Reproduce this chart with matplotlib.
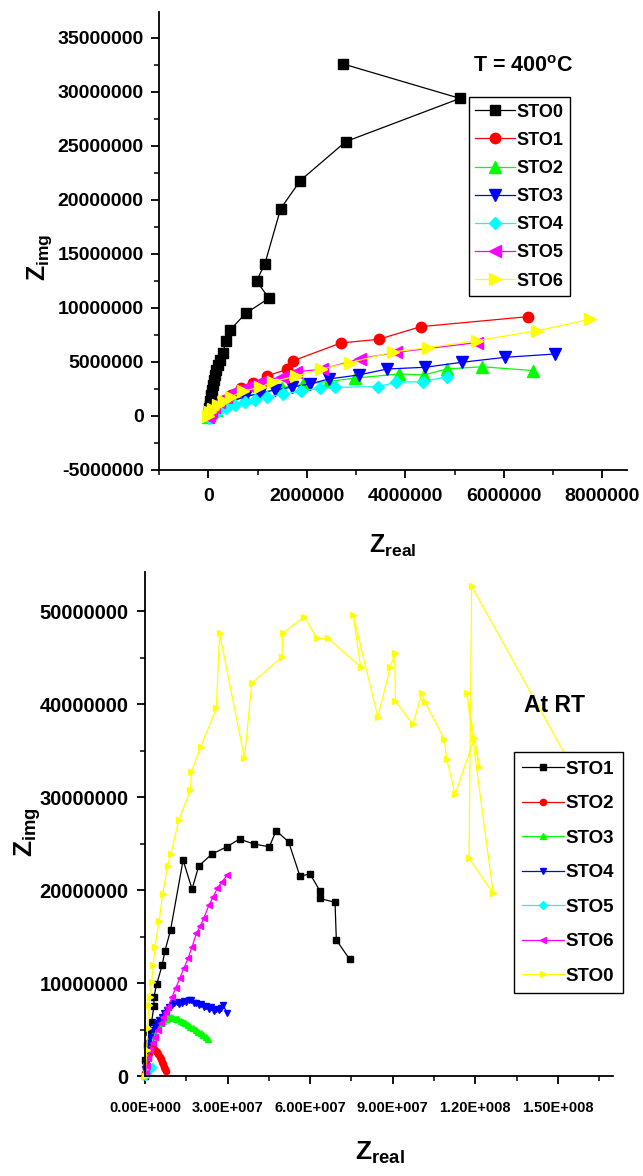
import numpy as np
import matplotlib
matplotlib.use('Agg')
import matplotlib.pyplot as plt
from matplotlib.ticker import MultipleLocator, FuncFormatter

plt.rcParams['font.family'] = ['Liberation Sans', 'DejaVu Sans']
plt.rcParams['font.weight'] = 'bold'
plt.rcParams['axes.unicode_minus'] = False
plt.rcParams['mathtext.fontset'] = 'custom'
plt.rcParams['mathtext.bf'] = 'Liberation Sans:bold'
plt.rcParams['mathtext.rm'] = 'Liberation Sans:bold'
plt.rcParams['mathtext.default'] = 'bf'

# --- T = 400 C impedance data (values in units of 1e6 ohm) ---
sto0_x = [0.00, 0.01, 0.02, 0.03, 0.04, 0.05, 0.07, 0.09, 0.11, 0.13, 0.16, 0.20, 0.23, 0.30, 0.355,
          0.45, 0.76, 1.23, 0.98, 1.15, 1.47, 1.87, 2.79, 5.11, 2.73]
sto0_y = [0.0, 0.4, 0.7, 1.0, 1.4, 1.9, 2.4, 2.9, 3.3, 3.8, 4.3, 4.7, 5.2, 5.86, 6.9,
          8.0, 9.5, 10.9, 12.5, 14.1, 19.2, 21.8, 25.4, 29.4, 32.6]
sto1_x = [0.0, 0.01, 0.05, 0.11, 0.21, 0.33, 0.47, 0.66, 0.90, 1.19, 1.60, 1.71, 2.69, 3.46, 4.31, 6.5]
sto1_y = [0.0, 0.2, 0.37, 0.65, 1.0, 1.5, 1.94, 2.56, 3.03, 3.7, 4.32, 5.09, 6.76, 7.1, 8.27, 9.2]
sto2_x = [0.0, 0.04, 0.15, 0.30, 0.50, 0.75, 1.1, 1.5, 1.93, 2.45, 2.97, 3.87, 4.38, 4.84, 5.55, 6.60]
sto2_y = [-0.1, 0.25, 0.6, 1.0, 1.4, 1.8, 2.2, 2.6, 2.94, 3.2, 3.5, 3.89, 3.8, 4.35, 4.56, 4.2]
sto3_x = [0.0, 0.03, 0.13, 0.27, 0.48, 0.74, 1.05, 1.35, 1.69, 2.06, 2.45, 3.06, 3.63, 4.40, 5.15, 6.02, 7.04]
sto3_y = [-0.1, 0.28, 0.65, 1.0, 1.39, 1.76, 2.1, 2.41, 2.66, 2.96, 3.43, 3.80, 4.35, 4.51, 4.97, 5.43, 5.74]
sto4_x = [0.01, 0.07, 0.19, 0.36, 0.54, 0.74, 0.94, 1.2, 1.52, 1.89, 2.26, 2.57, 3.44, 3.82, 4.36, 4.84]
sto4_y = [-0.2, 0.19, 0.46, 0.74, 1.02, 1.32, 1.48, 1.79, 2.0, 2.34, 2.56, 2.66, 2.71, 3.12, 3.18, 3.64]
sto5_x = [0.0, 0.02, 0.06, 0.12, 0.22, 0.35, 0.55, 0.8, 1.1, 1.49, 1.79, 2.30, 3.08, 3.82, 5.45]
sto5_y = [-0.1, 0.1, 0.4, 0.8, 1.3, 1.8, 2.3, 2.8, 3.2, 3.64, 4.1, 4.32, 5.3, 5.9, 6.79]
sto6_x = [0.0, 0.03, 0.09, 0.19, 0.31, 0.47, 0.71, 1.05, 1.32, 1.79, 2.28, 2.87, 3.75, 4.46, 5.45, 6.68, 7.75]
sto6_y = [0.0, 0.37, 0.65, 1.0, 1.39, 1.79, 2.31, 2.66, 3.18, 3.7, 4.32, 4.94, 5.93, 6.33, 6.97, 7.9, 8.95]

# --- room temperature impedance data (values in units of 1e6 ohm) ---
rt1_x = [0.0, 0.18, 0.72, 1.45, 2.42, 3.25, 3.25, 4.23, 6.25, 7.23, 9.29, 13.84, 17.09, 19.52, 24.32,
         29.74, 34.33, 39.65, 45.18, 47.60, 52.15, 56.27, 59.99, 63.50, 63.50, 69.03, 69.50, 74.34]
rt1_y = [0.0, 1.72, 3.33, 4.73, 5.84, 7.53, 8.52, 9.86, 11.93, 13.44, 15.70, 23.22, 20.10, 22.58, 23.87,
         24.65, 25.48, 24.94, 24.65, 26.37, 25.19, 21.5, 21.72, 19.92, 19.10, 18.67, 14.62, 12.55]
rt2_x = [0.05, 0.2, 0.45, 0.8, 1.2, 1.6, 2.0, 2.42, 2.9, 3.5, 4.23, 4.8, 5.42, 5.9, 6.25, 6.6, 6.97, 7.3, 7.59]
rt2_y = [0.3, 0.8, 1.3, 1.8, 2.2, 2.5, 2.8, 2.98, 2.95, 2.8, 2.61, 2.35, 2.07, 1.8, 1.54, 1.25, 1.0, 0.75, 0.57]
rt3_x = [0.2, 0.61, 1.2, 1.81, 2.5, 3.25, 4.0, 4.81, 5.7, 6.61, 7.5, 8.42, 9.3, 10.23, 11.1, 12.03, 12.9,
         13.84, 14.7, 15.65, 16.5, 17.46, 18.4, 19.26, 20.2, 21.07, 22.0, 22.88]
rt3_y = [0.9, 2.07, 3.0, 3.87, 4.35, 4.76, 5.15, 5.48, 5.75, 5.94, 6.1, 6.20, 6.3, 6.27, 6.15, 6.10, 5.95,
         5.84, 5.65, 5.48, 5.3, 5.13, 4.95, 4.76, 4.6, 4.41, 4.2, 3.95]
rt4_x = [0.1, 0.61, 1.19, 1.81, 2.78, 3.5, 4.23, 5.1, 6.04, 7.0, 7.84, 8.7, 9.65, 10.5, 11.46, 12.4, 13.26,
         14.2, 15.07, 16.0, 16.88, 17.8, 18.68, 19.6, 20.49, 21.4, 22.30, 23.2, 24.11, 25.0, 25.91, 26.8,
         27.72, 28.30, 29.89]
rt4_y = [0.8, 2.80, 3.52, 4.22, 4.95, 5.3, 5.67, 6.0, 6.37, 6.8, 7.10, 7.4, 7.63, 7.85, 7.99, 7.75, 7.88,
         8.05, 7.99, 8.2, 8.17, 7.9, 7.88, 7.6, 7.74, 7.45, 7.53, 7.2, 7.39, 7.0, 7.17, 7.05, 7.28, 7.63, 6.80]
rt5_x = [0.0, 0.3, 0.6, 0.9, 1.2, 1.5, 1.8, 2.1, 2.4]
rt5_y = [0.0, 0.15, 0.3, 0.45, 0.6, 0.7, 0.8, 0.9, 1.0]
rt6_x = [0.2, 0.6, 1.19, 1.81, 2.78, 3.61, 4.59, 5.67, 6.61, 7.5, 8.42, 9.87, 11.09, 12.65, 14.09, 15.65,
         17.09, 18.68, 20.0, 21.32, 23.24, 24.8, 26.27, 28.0, 29.89]
rt6_y = [0.3, 1.1, 1.90, 2.80, 3.52, 4.22, 4.95, 5.67, 6.37, 6.9, 7.45, 8.52, 9.43, 10.5, 11.58, 12.65,
         13.90, 15.34, 16.1, 16.95, 18.38, 19.3, 20.18, 20.9, 21.61]
rt0_x = [0.0, 0.61, 0.97, 1.45, 1.81, 2.42, 3.0, 3.61, 5.17, 6.40, 8.20, 9.40, 12.29, 16.52, 16.88, 20.24,
         25.91, 27.11, 36.14, 38.78, 49.76, 49.98, 57.82, 62.52, 66.50, 78.32, 75.64, 84.57, 89.16, 90.71,
         90.97, 97.33, 100.58, 101.81, 108.67, 109.61, 112.65, 119.63, 121.43, 116.84, 126.49, 117.71,
         118.65, 160.8]
rt0_y = [0.0, 2.80, 5.16, 7.63, 8.52, 10.14, 11.93, 13.87, 16.69, 19.57, 22.58, 23.87, 27.52, 30.75, 32.71,
         35.40, 39.53, 47.59, 34.15, 42.22, 45.08, 47.59, 49.38, 47.05, 47.05, 44.0, 49.56, 38.62, 44.0,
         45.44, 40.31, 37.81, 41.14, 40.17, 36.23, 34.08, 30.28, 36.30, 33.25, 41.20, 19.64, 23.40, 52.68,
         30.2]

hot = [('STO0', sto0_x, sto0_y, 'k', 's', 6.5),
       ('STO1', sto1_x, sto1_y, '#ff0000', 'o', 7.5),
       ('STO2', sto2_x, sto2_y, '#00ff00', '^', 8),
       ('STO3', sto3_x, sto3_y, '#0000ff', 'v', 8),
       ('STO4', sto4_x, sto4_y, '#00ffff', 'D', 6.5),
       ('STO5', sto5_x, sto5_y, '#ff00ff', '<', 8),
       ('STO6', sto6_x, sto6_y, '#ffff00', '>', 8)]
room = [('STO1', rt1_x, rt1_y, 'k', 's', 4),
        ('STO2', rt2_x, rt2_y, '#ff0000', 'o', 4.5),
        ('STO3', rt3_x, rt3_y, '#00ff00', '^', 5),
        ('STO4', rt4_x, rt4_y, '#0000ff', 'v', 5),
        ('STO5', rt5_x, rt5_y, '#00ffff', 'D', 4),
        ('STO6', rt6_x, rt6_y, '#ff00ff', '<', 5),
        ('STO0', rt0_x, rt0_y, '#ffff00', '>', 5)]

W, H = 643, 1176
fig = plt.figure(figsize=(W / 100, H / 100), dpi=100)
ax1 = fig.add_axes([159 / W, 1 - 470 / H, 468 / W, 458 / H])
ax2 = fig.add_axes([145 / W, 1 - 1076 / H, 468 / W, 504 / H])


def style(ax, ysize, xsize):
    for s in ['top', 'right']:
        ax.spines[s].set_visible(False)
    for s in ['left', 'bottom']:
        ax.spines[s].set_linewidth(1.3)
    ax.tick_params(which='major', direction='out', length=6, width=1.3)
    ax.tick_params(which='minor', direction='out', length=3.5, width=1.1)
    ax.tick_params(axis='y', labelsize=ysize, pad=5)
    ax.tick_params(axis='x', labelsize=xsize, pad=6)


for name, x, y, c, m, ms in hot:
    ax1.plot(np.array(x) * 1e6, np.array(y) * 1e6, color=c, marker=m, ms=ms, mec=c, lw=0.9, label=name)
ax1.set_xlim(-1e6, 8.5e6)
ax1.set_ylim(-5e6, 37.4e6)
ax1.xaxis.set_major_locator(MultipleLocator(2e6))
ax1.xaxis.set_minor_locator(MultipleLocator(1e6))
ax1.yaxis.set_major_locator(MultipleLocator(5e6))
ax1.yaxis.set_minor_locator(MultipleLocator(2.5e6))
ax1.ticklabel_format(style='plain', useOffset=False)
style(ax1, 14, 14)
ax1.tick_params(axis='x', pad=7)
leg1 = ax1.legend(loc='upper left', bbox_to_anchor=(0.662, 0.814), borderaxespad=0, fontsize=13,
                  fancybox=False, framealpha=1, edgecolor='k', handlelength=2.2, handletextpad=0.1,
                  labelspacing=0.62, borderpad=0.35)
leg1.get_frame().set_linewidth(1.0)

for name, x, y, c, m, ms in room:
    ax2.plot(np.array(x) * 1e6, np.array(y) * 1e6, color=c, marker=m, ms=ms, mec=c, lw=0.9,
             label=name, clip_on=False)
ax2.set_xlim(0, 170e6)
ax2.set_ylim(0, 54.2e6)
ax2.xaxis.set_major_locator(MultipleLocator(30e6))
ax2.xaxis.set_minor_locator(MultipleLocator(15e6))
ax2.yaxis.set_major_locator(MultipleLocator(10e6))
ax2.yaxis.set_minor_locator(MultipleLocator(5e6))


def sci(v, pos):
    mant, exp = f'{v:.2E}'.split('E')
    return f'{mant}E{int(exp):+04d}'


ax2.xaxis.set_major_formatter(FuncFormatter(sci))
ax2.yaxis.set_major_formatter(FuncFormatter(lambda v, p: f'{v:.0f}'))
style(ax2, 14.5, 10.5)
ax2.tick_params(axis='y', pad=6)
ax2.tick_params(axis='x', pad=12)
leg2 = ax2.legend(loc='upper left', bbox_to_anchor=((514 - 145) / 468, (1076 - 752) / 504), borderaxespad=0,
                  fontsize=13.5, fancybox=False, framealpha=1, edgecolor='k', handlelength=2.2,
                  handletextpad=0.1, labelspacing=0.93, borderpad=0.45)
leg2.get_frame().set_linewidth(1.0)

# axis titles and annotations
fig.text(393 / W, 1 - 533 / H, r'$Z_{real}$', fontsize=18, ha='center', va='top')
fig.text(40 / W, 1 - 257 / H, r'$Z_{img}$', fontsize=18, ha='center', va='center', rotation=90)
fig.text(380 / W, 1 - 1140 / H, r'$Z_{real}$', fontsize=19, ha='center', va='top')
fig.text(28 / W, 1 - 832 / H, r'$Z_{img}$', fontsize=19, ha='center', va='center', rotation=90)
fig.text(523 / W, 1 - 67 / H, r'T = 400$^{o}$C', fontsize=15.5, ha='center', va='center')
fig.text(554 / W, 1 - 706 / H, 'At RT', fontsize=16.5, ha='center', va='center')

fig.savefig('out.png', dpi=100)
